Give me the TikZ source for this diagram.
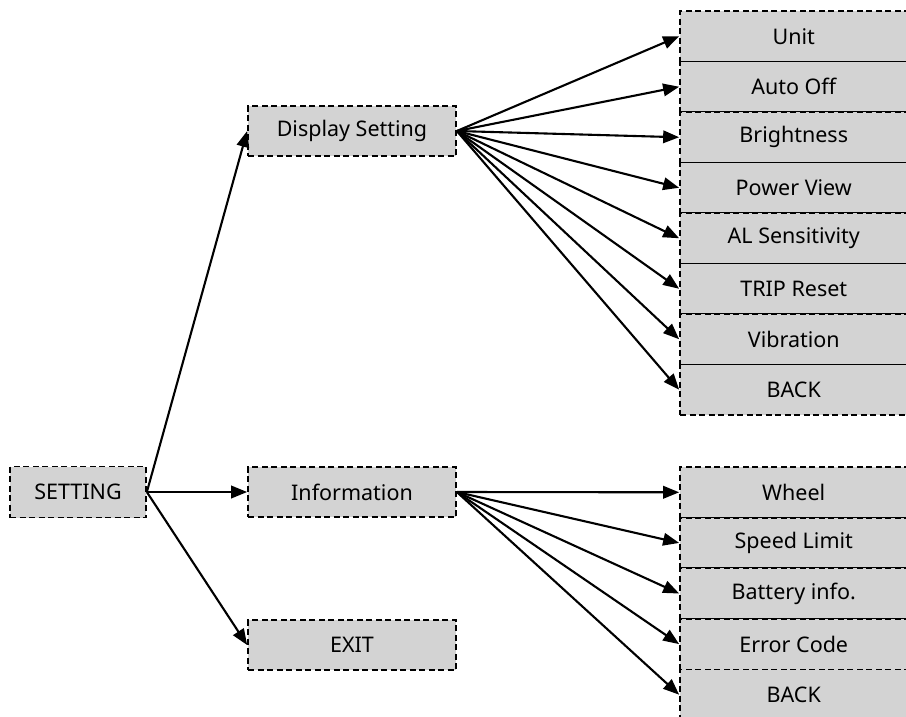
\documentclass[tikz,border=0pt]{standalone}
\usepackage{fontspec}
\setmainfont{Noto Sans}
\usetikzlibrary{arrows.meta}
\tikzset{
  box/.style={draw=black, fill=boxgray, line width=1.7pt, dash pattern=on 6pt off 3.5pt,
    rectangle, inner sep=0pt, font=\fontsize{21.5}{25}\selectfont},
  midbox/.style={box, minimum width=208pt, minimum height=50pt},
  rbox/.style={box, minimum width=227.5pt, minimum height=50.5pt},
  conn/.style={line width=2.1pt, -{Triangle[length=16pt,width=12.5pt]}}
}
\definecolor{boxgray}{RGB}{211,211,211}
\begin{document}
\begin{tikzpicture}[x=1pt,y=-1pt]
\useasboundingbox (0,0) rectangle (906,716);
% left
\node[box, minimum width=136pt, minimum height=51pt] (set) at (78,492) {SETTING};
\node[midbox] (disp) at (352,131) {Display Setting};
\node[midbox] (info) at (352,492) {Information};
\node[midbox] (exit) at (352,645) {EXIT};
% upper right column
\node[rbox] (u1) at (793.75,36.25) {Unit};
\node[rbox] (u2) at (793.75,86.75) {Auto Off};
\node[rbox] (u3) at (793.75,137.25) {Brightness};
\node[rbox] (u4) at (793.75,187.75) {Power View};
\node[rbox] (u5) at (793.75,238.25) {AL Sensitivity};
\node[rbox] (u6) at (793.75,288.75) {TRIP Reset};
\node[rbox] (u7) at (793.75,339.25) {Vibration};
\node[rbox] (u8) at (793.75,389.75) {BACK};
% lower right column
\node[rbox] (l1) at (793.75,492.3) {Wheel};
\node[rbox] (l2) at (793.75,542.9) {Speed Limit};
\node[rbox] (l3) at (793.75,593.5) {Battery info.};
\node[rbox] (l4) at (793.75,644.1) {Error Code};
\node[rbox] (l5) at (793.75,694.7) {BACK};
% connectors
\draw[conn] (set.east) -- (disp.west);
\draw[conn] (set.east) -- (info.west);
\draw[conn] (set.east) -- (exit.west);
\foreach \n in {u1,u2,u3,u4,u5,u6,u7,u8} {\draw[conn] (disp.east) -- (\n.west);}
\foreach \n in {l1,l2,l3,l4,l5} {\draw[conn] (info.east) -- (\n.west);}
\end{tikzpicture}
\end{document}
